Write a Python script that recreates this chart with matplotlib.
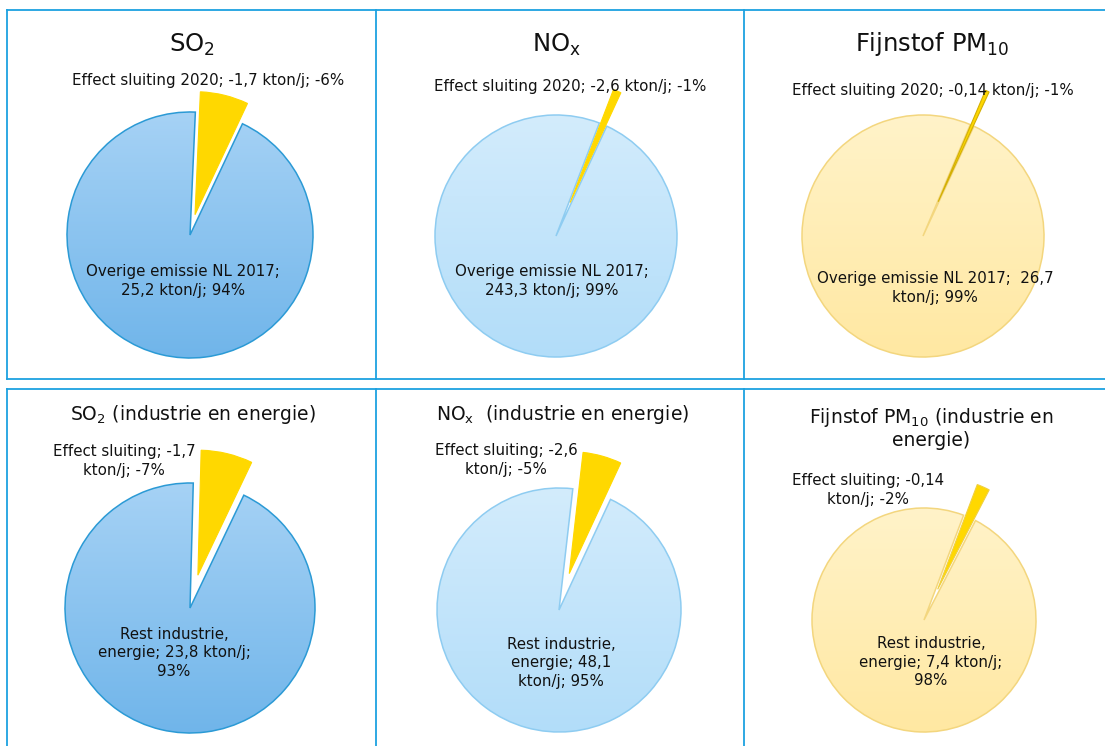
import numpy as np
import matplotlib.pyplot as plt
from matplotlib.colors import LinearSegmentedColormap

# figure size in pixels
W, H = 1105, 746

# data: effect of closure vs. remaining emission (kton/j)
titles = [r'SO$_\mathregular{2}$', r'NO$_\mathregular{x}$', r'Fijnstof PM$_\mathregular{10}$',
          r'SO$_\mathregular{2}$ (industrie en energie)',
          r'NO$_\mathregular{x}$  (industrie en energie)',
          'Fijnstof PM$_\\mathregular{10}$ (industrie en\nenergie)']
effect_values = [1.7, 2.6, 0.14, 1.7, 2.6, 0.14]
rest_values = [25.2, 243.3, 26.7, 23.8, 48.1, 7.4]
effect_labels = ['Effect sluiting 2020; -1,7 kton/j; -6%',
                 'Effect sluiting 2020; -2,6 kton/j; -1%',
                 'Effect sluiting 2020; -0,14 kton/j; -1%',
                 'Effect sluiting; -1,7\nkton/j; -7%',
                 'Effect sluiting; -2,6\nkton/j; -5%',
                 'Effect sluiting; -0,14\nkton/j; -2%']
rest_labels = ['Overige emissie NL 2017;\n25,2 kton/j; 94%',
               'Overige emissie NL 2017;\n243,3 kton/j; 99%',
               'Overige emissie NL 2017;  26,7\nkton/j; 99%',
               'Rest industrie,\nenergie; 23,8 kton/j;\n93%',
               'Rest industrie,\nenergie; 48,1\nkton/j; 95%',
               'Rest industrie,\nenergie; 7,4 kton/j;\n98%']

# layout (pixel positions, y from top)
centers = [(190, 235), (556, 236), (923, 236), (190, 608), (559, 610), (924, 620)]
radii = [123, 121, 121, 125, 122, 112]
first_angle = [2.5, 21, 23, 1.5, 6.5, 20.7]
explode_amt = [0.17, 0.3, 0.31, 0.27, 0.31, 0.3]
title_pos = [(192, 45), (556, 45), (932, 44), (193, 415), (563, 415), (931, 428)]
title_size = [17.5, 17.5, 17.5, 13.5, 13.5, 13.5]
effect_pos = [(208, 80), (570, 86), (933, 91), (124, 461), (506, 460), (868, 490)]
rest_pos = [(183, 281), (552, 281), (935, 288), (174, 653), (561, 663), (931, 662)]

# colour schemes: (top, bottom, edge) of the main slice
blue = ('#A6D2F5', '#70B5EA', '#2B9AD5')
light_blue = ('#D3ECFC', '#B2DDF9', '#8ECCF1')
pale_yellow = ('#FFF3C9', '#FFE8A2', '#F3D67E')
schemes = [blue, light_blue, pale_yellow, blue, light_blue, pale_yellow]
yellow = '#FFD800'
yellow_edge = ['#FFD800', '#FFD800', '#D2AF05', '#FFD800', '#FFD800', '#F0D040']

fig = plt.figure(figsize=(W / 100, H / 100), dpi=100)
ax = fig.add_axes([0, 0, 1, 1])
ax.axis('off')

grad = np.linspace(0, 1, 256).reshape(-1, 1)

for i in range(6):
    cx, cy = centers[i]
    r = radii[i]
    top_c, bot_c, edge_c = schemes[i]
    # explode is given in data units, so scale by the radius
    wedges, _ = ax.pie([effect_values[i], rest_values[i]],
                       center=(cx, H - cy), radius=r,
                       startangle=90 - first_angle[i], counterclock=False,
                       explode=[explode_amt[i] * r, 0],
                       colors=[yellow, 'none'], frame=True)
    wedges[0].set_edgecolor(yellow_edge[i])
    wedges[0].set_linewidth(0.8)
    wedges[0].set_zorder(3)
    wedges[1].set_edgecolor(edge_c)
    wedges[1].set_linewidth(1.1)
    wedges[1].set_zorder(2)
    cmap = LinearSegmentedColormap.from_list('g%d' % i, [bot_c, top_c])
    im = ax.imshow(grad, extent=[cx - r, cx + r, H - cy - r, H - cy + r],
                   origin='lower', cmap=cmap, aspect='auto', zorder=1)
    im.set_clip_path(wedges[1])

    tx, ty = title_pos[i]
    ax.text(tx, H - ty, titles[i], ha='center', va='center',
            fontsize=title_size[i], color='#111111', linespacing=1.1)
    ex, ey = effect_pos[i]
    ax.text(ex, H - ey, effect_labels[i], ha='center', va='center',
            fontsize=10.8, color='#111111', zorder=5, linespacing=1.3)
    rx, ry = rest_pos[i]
    ax.text(rx, H - ry, rest_labels[i], ha='center', va='center',
            fontsize=10.8, color='#111111', zorder=5, linespacing=1.3)

# panel frames
frame_c = '#1DA1E0'
for y in [10, 379, 389]:
    ax.plot([7, W], [H - y, H - y], color=frame_c, lw=1.3, zorder=6)
for x in [7, 376, 744]:
    ax.plot([x, x], [H - 10, H - 379], color=frame_c, lw=1.3, zorder=6)
    ax.plot([x, x], [H - 389, 0], color=frame_c, lw=1.3, zorder=6)

ax.set_xlim(0, W)
ax.set_ylim(0, H)
ax.set_aspect('equal')
ax.axis('off')

plt.savefig('out.png', dpi=100)
